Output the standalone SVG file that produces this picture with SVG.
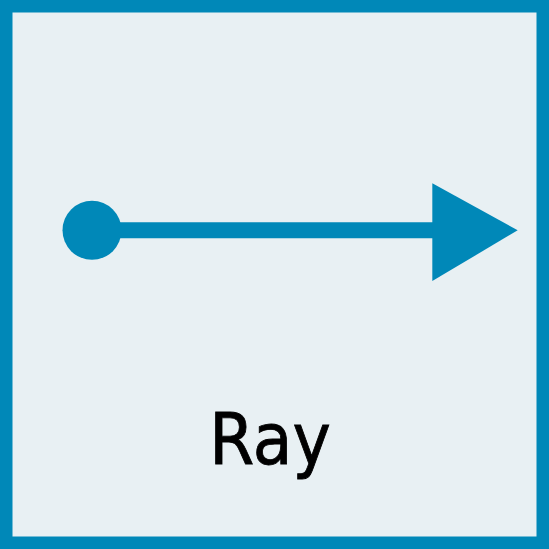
<svg xmlns="http://www.w3.org/2000/svg" width="549" height="549" viewBox="0 0 549 549">
  <style>
    .ink { fill: #0088B8; }
    .label { font-family: "DejaVu Sans Condensed", "DejaVu Sans", sans-serif; font-stretch: condensed; font-size: 72px; fill: #000000; stroke: #000000; stroke-width: 0.8px; }
  </style>
  <g id="frame">
    <rect x="6.25" y="6.25" width="536.5" height="536.5" fill="#E8F0F3" stroke="#0088B8" stroke-width="12.5"/>
  </g>
  <g id="connectors">
    <line x1="92" y1="230.3" x2="436" y2="230.3" stroke="#0088B8" stroke-width="16"/>
  </g>
  <g id="ray">
    <circle class="ink" cx="92" cy="230.3" r="29.5"/>
    <polygon class="ink" points="432.3,183.3 517.7,230.3 432.3,281"/>
  </g>
  <g id="label">
    <text class="label" x="270" y="464" text-anchor="middle">Ray</text>
  </g>
</svg>
